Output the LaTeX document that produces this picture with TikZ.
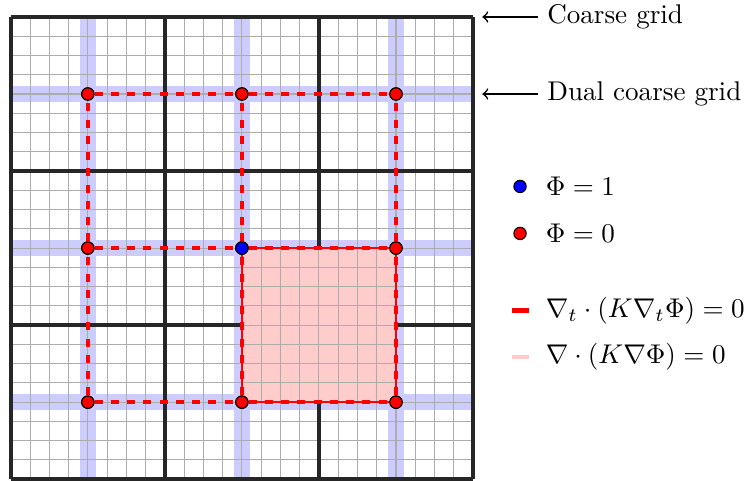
\documentclass[tikz,border=0pt]{standalone}
\usepackage{amsmath}
\begin{document}
\begin{tikzpicture}[line join=round,
    fine/.style={gray!65, line width=0.4pt},
    coarse/.style={black!85, line width=1.3pt},
    band/.style={blue!20},
    dualedge/.style={red, dashed, line width=1.4pt},
    dot/.style={circle, draw=black, line width=0.4pt, inner sep=0pt, minimum size=0.16cm}]
	% Cadre de l'image
	\useasboundingbox (-0.14,-0.02) rectangle (9.53,6.22);

	% Bandes bleues du maillage dual
	\foreach \c in {1,3,5} {
		\fill[band] (0,\c-0.1) rectangle (6,\c+0.1);
		\fill[band] (\c-0.1,0) rectangle (\c+0.1,6);
	}

	% Grille fine puis grille grossière (pas 2)
	\draw[fine] (0,0) grid[step=0.25] (6,6);
	\draw[coarse] (0,0) grid[step=2] (6,6);

	% Carré rose (sous-domaine)
	\fill[red!20] (3,1) rectangle (5,3);
	\draw[fine] (3,1) grid[step=0.25] (5,3);
	\draw[red, thick] (3,1) rectangle (5,3);

	% Noeuds du maillage dual
	\foreach \i in {1,2,3}
		\foreach \j in {1,2,3}
			\node[dot, fill=red] (d\i\j) at ({2*\i-1},{2*\j-1}) {};

	% Arêtes du maillage dual
	\foreach \i in {1,2,3} {
		\draw[dualedge] (d\i1) -- (d\i2) -- (d\i3);
		\draw[dualedge] (d1\i) -- (d2\i) -- (d3\i);
	}

	% Redessin des points (au-dessus des arêtes)
	\foreach \i in {1,2,3}
		\foreach \j in {1,2,3}
			\node[dot, fill=red] at (d\i\j) {};
	\node[dot, fill=blue] at (d22) {};

	% Étiquettes des grilles
	\coordinate (cg) at (6.12,6);
	\coordinate (dg) at (6.12,5);
	\node[anchor=west] (cglbl) at (6.84,6) {Coarse grid};
	\node[anchor=west] (dglbl) at (6.84,5) {Dual coarse grid};
	\draw[<-, semithick] (cg) -- (cglbl);
	\draw[<-, semithick] (dg) -- (dglbl);

	% Légende
	\node[dot, fill=blue] (lgblue) at (6.61,3.80) {};
	\node[dot, fill=red] (lgred) at (6.61,3.19) {};
	\node[anchor=west] (lbone) at (6.82,3.80) {$\Phi = 1$};
	\node[anchor=west] (lbzero) at (6.82,3.19) {$\Phi = 0$};
	\coordinate (la) at (6.51,2.19);
	\coordinate (lb) at (6.72,2.19);
	\coordinate (lc) at (6.51,1.59);
	\coordinate (ld) at (6.72,1.59);
	\draw[red, line width=1.6pt] (la) -- (lb);
	\draw[red!20, line width=1.6pt] (lc) -- (ld);
	\node[anchor=west] (lbtan) at (6.82,2.19) {$\nabla_t \cdot (K \nabla_t \Phi) = 0$};
	\node[anchor=west] (lbfull) at (6.82,1.59) {$\nabla \cdot (K \nabla \Phi) = 0$};
\end{tikzpicture}
\end{document}
